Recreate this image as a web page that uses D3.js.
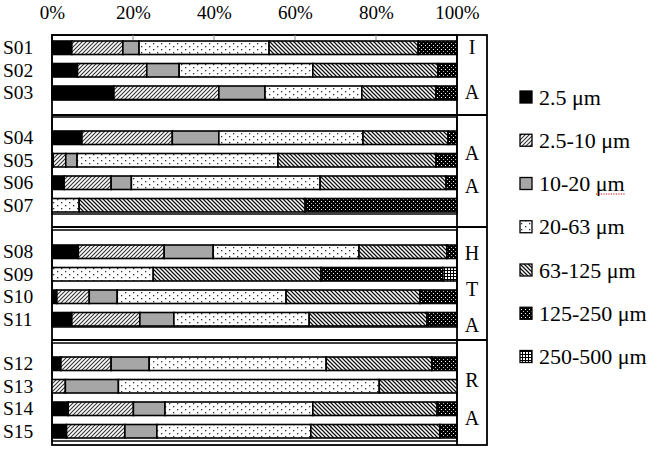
<!DOCTYPE html>
<html><head><meta charset="utf-8">
<script src="https://cdn.jsdelivr.net/npm/d3@7"></script>
<style>body{margin:0;background:#fff}svg{display:block}</style>
</head><body>
<svg id="chart" width="664" height="450"></svg>
<script>
// ---------- data ----------
const sizeClasses = ["2.5 μm","2.5-10 μm","10-20 μm","20-63 μm","63-125 μm","125-250 μm","250-500 μm"];
const samples = ["S01","S02","S03","S04","S05","S06","S07","S08","S09","S10","S11","S12","S13","S14","S15"];
const c2_5     = [4.9, 6.3, 15.3, 7.4, 0.3, 3.0, 0,   6.5, 0,    1.2, 4.9, 2.2, 0,    4.0, 3.6];
const c2_5_10  = [12.6,17.1,25.9, 22.3,3.1, 11.6,0,   21.2,0,    8.0, 16.8,12.4,3.3,  16.1,14.4];
const c10_20   = [4.0, 8.0, 11.4, 11.5,2.8, 5.0, 0,   12.1,0,    6.9, 8.4, 9.4, 13.1, 7.8, 7.9];
const c20_63   = [32.1,33.0,23.9, 35.6,49.6,46.6,6.7, 36.0,25.0, 41.7,33.4,43.7,64.4, 36.5,38.0];
const c63_125  = [36.8,30.9,18.3, 21.0,39.0,31.1,55.8,21.7,41.4, 33.1,29.1,26.1,19.2, 30.7,31.9];
const c125_250 = [9.6, 4.7, 5.2,  2.2, 5.2, 2.7, 37.5,2.5, 30.1, 9.1, 7.4, 6.2, 0,    4.9, 4.2];
const c250_500 = [0,   0,   0,    0,   0,   0,   0,   0,   3.5,  0,   0,   0,   0,    0,   0];
const xTicks = [0, 20, 40, 60, 80, 100];
const groupSamples = [["S01","S02","S03"],["S04","S05","S06","S07"],["S08","S09","S10","S11"],["S12","S13","S14","S15"]];
const groupLetters = [["I","A"],["A","A"],["H","T","A"],["R","A"]];

const series = [c2_5,c2_5_10,c10_20,c20_63,c63_125,c125_250,c250_500];
const table = samples.map((s,i)=>{const o={sample:s}; sizeClasses.forEach((k,j)=>o[k]=series[j][i]); return o;});

// ---------- layout ----------
const svg = d3.select("#chart");
const X0 = 52, X1 = 457, XL = 487, TOP = 35, BOT = 445;
const panels = [
  {top:35,  bottom:100, barTop:41,  cellTop:35,  labelRange:[47,92]},
  {top:117, bottom:214, barTop:131, cellTop:115, labelRange:[153,186]},
  {top:230, bottom:327, barTop:245, cellTop:227, labelRange:[253,325]},
  {top:343, bottom:441, barTop:357, cellTop:340, labelRange:[380,418]}
];
const STEP = 22.5;
const x = d3.scaleLinear().domain([0,100]).range([X0,X1]);

// patterns
const defs = svg.append("defs");
function pat(id,w,h,build){const p=defs.append("pattern").attr("id",id).attr("patternUnits","userSpaceOnUse").attr("width",w).attr("height",h);build(p);}
pat("pHatchUp",4,4,p=>{p.append("rect").attr("width",4).attr("height",4).attr("fill","#fff");
  p.append("path").attr("d","M-1,1 L1,-1 M0,4 L4,0 M3,5 L5,3").attr("stroke","#333").attr("stroke-width",1.1);});
pat("pDots",8,6,p=>{p.append("rect").attr("width",8).attr("height",6).attr("fill","#fff");
  p.append("rect").attr("x",1).attr("y",1).attr("width",1.3).attr("height",1.3).attr("fill","#333");
  p.append("rect").attr("x",5).attr("y",4).attr("width",1.3).attr("height",1.3).attr("fill","#333");});
pat("pHatchDown",4,4,p=>{p.append("rect").attr("width",4).attr("height",4).attr("fill","#fff");
  p.append("path").attr("d","M-1,-1 L5,5 M-1,3 L1,5 M3,-1 L5,1").attr("stroke","#111").attr("stroke-width",1.25);});
pat("pBlackDots",4,4,p=>{p.append("rect").attr("width",4).attr("height",4).attr("fill","#000");
  p.append("rect").attr("x",1).attr("y",1).attr("width",1).attr("height",1).attr("fill","#fff");
  p.append("rect").attr("x",3).attr("y",3).attr("width",1).attr("height",1).attr("fill","#bbb");});
pat("pGrid",3,3,p=>{p.append("rect").attr("width",3).attr("height",3).attr("fill","#000");
  p.append("rect").attr("x",1).attr("y",1).attr("width",2).attr("height",2).attr("fill","#fff");});
const fills = ["#000","url(#pHatchUp)","#a6a6a6","url(#pDots)","url(#pHatchDown)","url(#pBlackDots)","url(#pGrid)"];
const color = d3.scaleOrdinal().domain(sizeClasses).range(fills);

const FONT = "'Liberation Serif','Times New Roman',serif";

// frames
const frame = svg.append("g").attr("fill","none").attr("stroke","#000");
frame.append("rect").attr("x",X0).attr("y",TOP).attr("width",XL-X0).attr("height",BOT-TOP).attr("stroke-width",1.8);
frame.append("line").attr("x1",X1).attr("x2",X1).attr("y1",TOP).attr("y2",BOT).attr("stroke-width",1.8);
panels.forEach((p,i)=>{
  if(i>0) frame.append("line").attr("x1",X0).attr("x2",XL).attr("y1",p.cellTop).attr("y2",p.cellTop).attr("stroke-width",1.8);
  frame.append("rect").attr("x",X0).attr("y",p.top).attr("width",X1-X0).attr("height",p.bottom-p.top).attr("stroke-width",1.5);
});
// top tick marks
frame.selectAll("line.tk").data(xTicks.slice(1,-1)).join("line").attr("class","tk")
  .attr("x1",d=>x(d)).attr("x2",d=>x(d)).attr("y1",TOP).attr("y2",TOP+5).attr("stroke-width",1).attr("stroke","#888");

// x axis labels on top
const xAxis = d3.axisTop(x).tickValues(xTicks).tickFormat(d=>d+"%").tickSize(0).tickPadding(0);
const ax = svg.append("g").attr("transform","translate(0,19)").call(xAxis);
ax.select(".domain").remove();
ax.selectAll("text").attr("font-family",FONT).attr("font-size",19).attr("fill","#000").attr("dy",0);

// bars
const stack = d3.stack().keys(sizeClasses)(table);
const barsG = svg.append("g");
panels.forEach((p,gi)=>{
  const n = groupSamples[gi].length;
  const y = d3.scaleBand().domain(groupSamples[gi]).range([p.barTop, p.barTop + STEP*(n-0.4)]).paddingInner(0.4).paddingOuter(0);
  stack.forEach(layer=>{
    barsG.append("g").selectAll("rect")
      .data(layer.filter(d=>groupSamples[gi].includes(d.data.sample) && d[1]-d[0]>0.01))
      .join("rect")
      .attr("x",d=>x(d[0])).attr("width",d=>x(d[1])-x(d[0]))
      .attr("y",d=>y(d.data.sample)).attr("height",y.bandwidth())
      .attr("fill",color(layer.key)).attr("stroke","#000").attr("stroke-width",1.6);
  });
  // sample labels
  const yAxis = d3.axisLeft(y).tickSize(0).tickPadding(0);
  const g = svg.append("g").attr("transform","translate(3,0)").call(yAxis);
  g.select(".domain").remove();
  g.selectAll("text").attr("text-anchor","start").attr("font-family",FONT).attr("font-size",19.5).attr("fill","#000").attr("x",0);
  // group letters
  const ly = d3.scalePoint().domain(d3.range(groupLetters[gi].length)).range(p.labelRange);
  svg.append("g").selectAll("text").data(groupLetters[gi]).join("text")
    .attr("x",(X1+XL)/2).attr("y",(d,i)=>ly(i)).attr("dy","0.35em")
    .attr("text-anchor","middle").attr("font-family",FONT).attr("font-size",20).text(d=>d);
});

// legend
const legY = d3.scalePoint().domain(sizeClasses).range([97.5, 357]);
const leg = svg.append("g");
sizeClasses.forEach(k=>{
  const cy = legY(k);
  leg.append("rect").attr("x",520).attr("y",cy-6.5).attr("width",12).attr("height",12)
    .attr("fill",color(k)).attr("stroke","#000").attr("stroke-width",1.3);
  const t = leg.append("text").attr("x",539).attr("y",cy+7).attr("font-family",FONT).attr("font-size",22).text(k);
  if(k==="10-20 μm"){
    const node=t.node();
    const start = node.getSubStringLength(0,6), full = node.getComputedTextLength();
    leg.append("line").attr("x1",539+start).attr("x2",539+full).attr("y1",cy+10).attr("y2",cy+10)
      .attr("stroke","#d00").attr("stroke-width",1.2).attr("stroke-dasharray","1.2,1.3");
  }
});
</script>
</body></html>
